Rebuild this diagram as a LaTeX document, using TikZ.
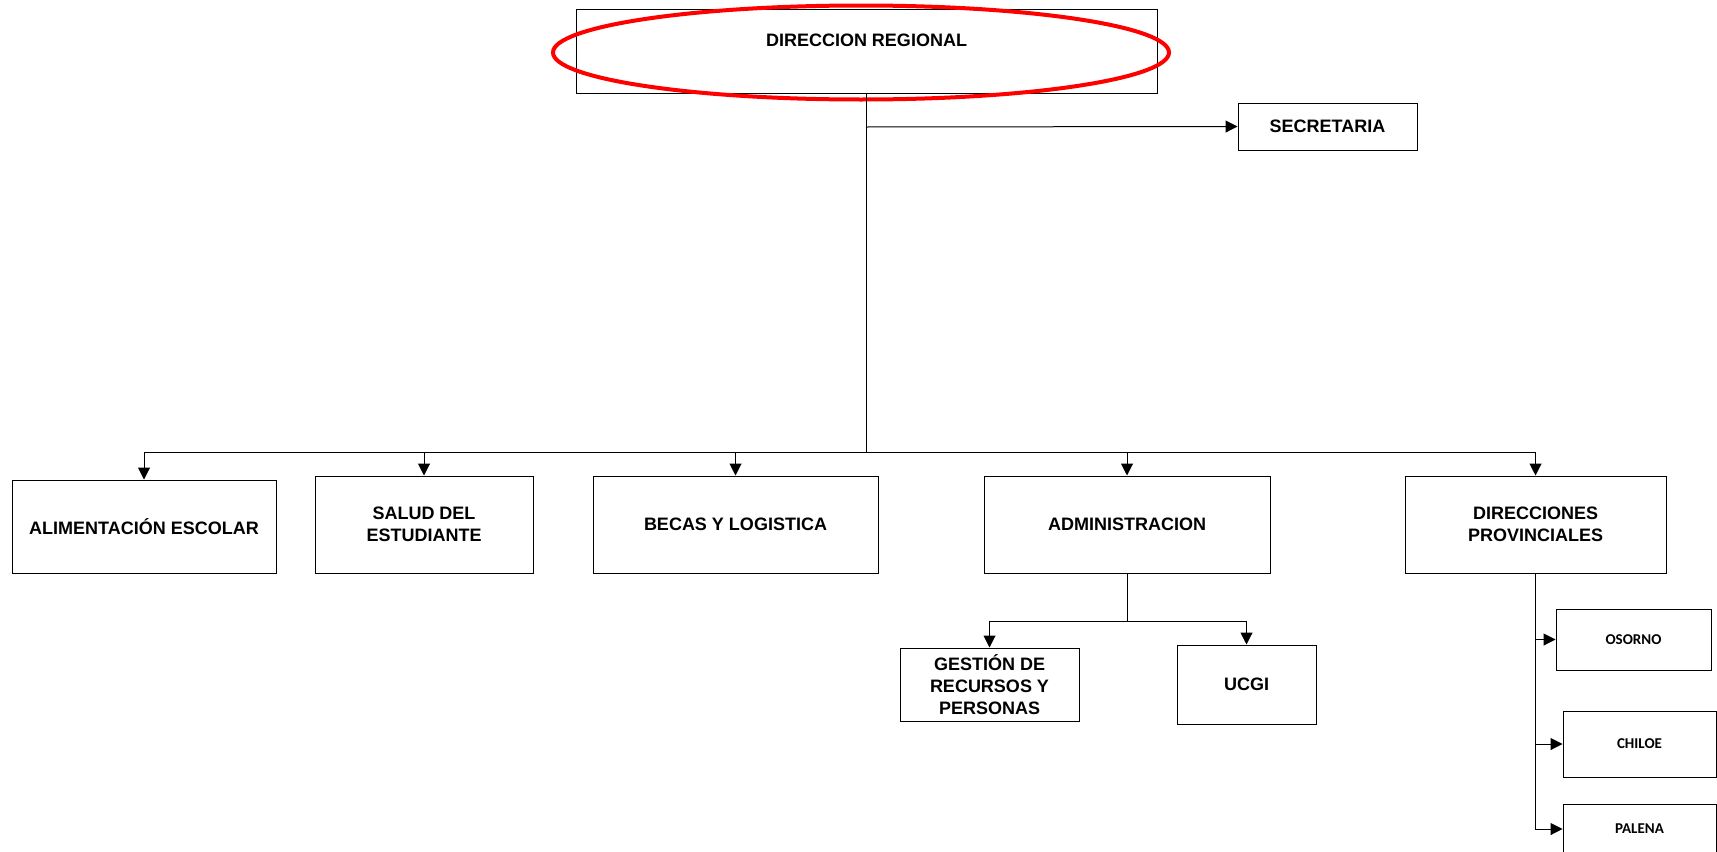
\documentclass[tikz,border=0pt]{standalone}
\usepackage{fontspec}
\setmainfont{Liberation Sans}
\newfontfamily\provfont{Carlito}
\usetikzlibrary{arrows.meta}

\begin{document}
\begin{tikzpicture}
	[x=0.5pt, y=-0.5pt,
	 box/.style={draw, line width=0.5pt, align=center, inner sep=2pt,
	   font=\fontsize{9}{11}\selectfont\bfseries},
	 prov/.style={box, font=\fontsize{7.5}{9}\provfont\bfseries},
	 arr/.style={-{Triangle[length=6pt,width=6pt]}, line width=0.5pt}]
	\useasboundingbox (0,0) rectangle (1717,851);

	\node[box, minimum width=290.5pt, minimum height=42pt, text depth=11pt] (dr) at (866.5,51) {DIRECCION REGIONAL};
	\node[box, minimum width=89.5pt, minimum height=23.5pt] (sec) at (1327.5,126.5) {SECRETARIA};

	\node[box, minimum width=132pt, minimum height=46.5pt] (ali) at (144,526.5) {ALIMENTACIÓN ESCOLAR};
	\node[box, minimum width=109pt, minimum height=48.5pt] (sal) at (424,524.5) {SALUD DEL\\ESTUDIANTE};
	\node[box, minimum width=142.5pt, minimum height=48.5pt] (bec) at (735.5,524.5) {BECAS Y LOGISTICA};
	\node[box, minimum width=143pt, minimum height=48.5pt] (adm) at (1127,524.5) {ADMINISTRACION};
	\node[box, minimum width=130.5pt, minimum height=48.5pt] (dpr) at (1535.5,524.5) {DIRECCIONES\\PROVINCIALES};

	\node[box, minimum width=89.5pt, minimum height=36.5pt] (ges) at (989.5,684.5) {GESTIÓN DE\\RECURSOS Y\\PERSONAS};
	\node[box, minimum width=69.5pt, minimum height=39.5pt] (ucg) at (1246.5,684.5) {UCGI};

	\node[prov, minimum width=77.5pt, minimum height=30.5pt] (oso) at (1633.5,639.5) {OSORNO};
	\node[prov, minimum width=76.5pt, minimum height=33pt] (chi) at (1639.5,744) {CHILOE};
	\node[prov, minimum width=76.5pt, minimum height=25pt] (pal) at (1639.5,829) {PALENA};

	\coordinate (sj) at (866.5,127);
	\coordinate (bus) at (866.5,452);
	\coordinate (ab) at (1127,621);

	% highlight
	\draw[red, line width=2pt] (861,52.5) ellipse [x radius=308, y radius=47];

	\draw[arr] (sj) -- (sec.west);
	\foreach \to in {ali,sal,bec,adm,dpr}
	\draw[arr] (dr.south) -- (bus) -| (\to.north);

	\foreach \to in {ges,ucg}
	\draw[arr] (adm.south) -- (ab) -| (\to.north);

	\foreach \to in {oso,chi,pal}
	\draw[arr] (dpr.south) |- (\to.west);
\end{tikzpicture}
\end{document}
